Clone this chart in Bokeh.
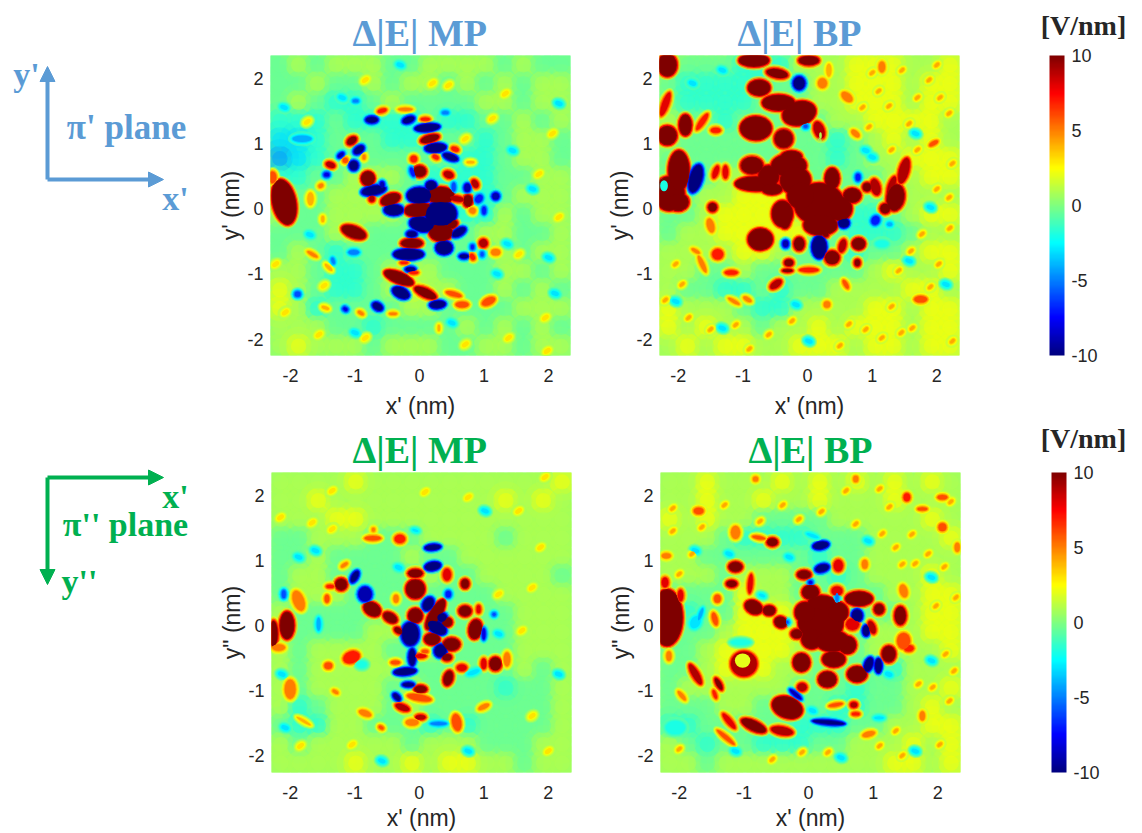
from math import radians
import numpy as np
from bokeh.plotting import figure
from bokeh.embed import file_html
from bokeh.resources import INLINE
from bokeh.layouts import column, row
from bokeh.models import (Arrow, NormalHead, ColorBar, FixedTicker, LinearColorMapper,
                          ColumnDataSource)
from bokeh.transform import transform

TICKS = [-2, -1, 0, 1, 2]
TICK_TEXT = {-2: "-2", -1: "-1", 0: "0", 1: "1", 2: "2"}
CBAR_TICKS = [-10, -5, 0, 5, 10]
CBAR_TEXT = {-10: "-10", -5: "-5", 0: "0", 5: "5", 10: "10"}
BLUE = "#5B9BD5"
GREEN = "#00B050"

# Background field, coarse reading of each map, top row first: value = digit - 3 (V/nm)
BG_MP1 = ["3434443344443433","3343343443434344","3432234333344344","2223222232233434",
          "1123332223323443","0123333333223443","2233444322223344","4334443322223444",
          "4334444322224344","3334433323344334","3432333333334344","4432234443334434",
          "5432234544334343","5423333443333444","4443323333434343","4544434443344344"]
BG_BP1 = ["4333222444555445","3222223344555455","3222233344555455","4332333334455554",
          "4333333332345454","3333333332344555","3334444333334455","3344555433333444",
          "3345555432223455","3445555533222344","4444554333233455","4433433333345445",
          "4332232334444554","5444322444455455","5454434454555455","4545544555455455"]
BG_MP2 = ["4444544444444445","4454444444445454","4445544444444444","3344433344443444",
          "3343333433444444","3443333343344443","3444333333334444","4333333333333444",
          "4333344333333444","4344443343333444","4344444333333434","4344443433332334",
          "4234443433333334","3224433323233334","4344444344433344","4444544545544344"]
BG_BP2 = ["4454445454545454","4454454454445444","5454433334444454","4443222233344445",
          "4433333323344444","4443444332344454","3333544333334455","2233555433333455",
          "2334555433344455","3345555433344445","3345554433332444","3444444333233445",
          "3334433332233454","2233333222334455","4323322233444545","4434444444445545"]

# Features: (x nm, y nm, width nm, height nm, tilt deg, value V/nm)
MP1 = [(-2.10,.10,.34,.68,12,12),(-2.28,.48,.12,.18,0,6),(-1.02,-.36,.38,.17,-20,11),(-.80,.46,.19,.20,0,12),
 (-.45,.14,.29,.15,20,12),(.33,.20,.40,.24,0,12),(-.01,-.02,.42,.19,5,12),(.33,-.36,.34,.26,0,12),
 (.51,-.24,.15,.11,30,11),(-.12,-.53,.32,.13,0,11),(0,.57,.19,.16,0,11),(.16,1.07,.29,.11,15,10),
 (-1.05,1.04,.16,.10,35,10),(-1.38,.67,.14,.08,-20,9),(.45,.52,.15,.10,-20,9),(.75,.12,.13,.17,0,11),
 (.58,.15,.22,.08,-10,9),(.86,.38,.09,.13,30,9),(.99,-.53,.12,.12,30,9),(-.32,-1.06,.46,.15,-22,12),
 (.09,-1.29,.36,.13,-25,10),(.53,-1.31,.25,.07,-15,6),(1.07,-1.42,.22,.11,25,6),(.66,-1.47,.2,.09,0,6),
 (-.74,.15,.08,.09,0,9),(-.58,1.5,.14,.06,15,7),(-.22,1.52,.22,.05,0,5),(.09,1.37,.14,.05,0,7),
 (.55,.91,.12,.07,-20,7),(.79,.71,.12,.04,0,4),(-.09,.76,.1,.1,0,7),(.25,.79,.1,.06,-30,7),
 (.82,-.74,.07,.1,30,7),(1.18,-.67,.14,.1,0,5),(.82,-.03,.1,.09,-30,5),(-1.69,.15,.1,.2,0,4),
 (-1.66,-.70,.18,.05,-30,5),(-1.46,-1.52,.12,.05,-20,4),(-.91,-1.6,.1,.05,-30,5),(-.41,-1.61,.12,.04,0,5),
 (.3,-1.83,.04,.1,0,4),(-1.53,.35,.08,.06,30,5),(-1.5,-.16,.05,.1,0,4),(-1.41,-.9,.15,.05,-45,4),
 (-.09,-.98,.14,.05,0,7),(-.86,.79,.05,.08,0,5),(-1.15,.74,.08,.08,0,6),(-.24,-.83,.12,.04,0,7),
 (0,.2,.36,.22,0,-12),(.33,-.08,.46,.36,0,-12),(.04,-.24,.36,.2,-10,-12),(.18,.35,.14,.12,0,-12),
 (-.4,-.02,.27,.14,0,-12),(-.71,.28,.36,.13,10,-11),(-.17,-.7,.44,.14,0,-12),(-.12,-.39,.14,.08,0,-11),
 (.38,-.6,.23,.18,0,-12),(.61,-.36,.22,.1,30,-11),(.12,1.24,.36,.09,5,-12),(.25,.93,.3,.11,5,-12),
 (.48,.79,.22,.08,-20,-11),(-.17,1.36,.18,.09,20,-10),(-.74,1.36,.17,.08,0,-11),(-.94,.9,.16,.09,35,-11),
 (-1.02,.66,.12,.13,0,-11),(-.29,-1.29,.25,.13,-25,-12),(.28,-1.47,.22,.09,5,-12),(-.65,-1.5,.15,.09,-30,-11),
 (1.18,.19,.1,.1,0,-9),(.74,.32,.09,.12,0,-9),(.92,.15,.1,.13,-40,-7),(1.0,-.03,.06,.12,0,-7),
 (.69,-.73,.13,.06,0,-10),(-.14,-.93,.14,.06,0,-10),(-1.22,.82,.1,.05,40,-9),(-1.44,.52,.08,.06,0,-8),
 (-1.02,-.67,.16,.07,0,-5),(-1.89,-1.31,.09,.08,0,-6),(-.11,.56,.06,.14,20,-7),(.53,.33,.06,.14,0,-6),
 (-.99,1.65,.09,.05,0,-5),(.4,1.47,.1,.05,0,-5),(-1.15,-1.54,.07,.05,-30,-8),(-1.34,-.8,.05,.1,15,-5),
 (-.58,.36,.06,.1,0,-9),(.82,-.59,.05,.07,0,-7),(.97,-.7,.05,.07,0,-6),(-1.82,1.07,.3,.1,0,-4)]
MP1_WARM = [(.2,1.92),(.45,1.89),(1.13,1.38),(1.85,.53),(.71,1.07),(1.54,-.7),(1.95,-1.67),(1.98,-2.18),(-2.08,-1.59),
 (-1.48,-1.18),(-1.74,1.33),(-.84,1.97),(1.33,1.76),(2.16,-.13),(-2.23,-.85),(-1.56,-1.93),(-.84,-1.98),(.71,-2.08),(1.38,-1.98),(2.06,1.15)]
MP1_COOL = [(1.36,-.54),(2.0,-.75),(1.44,.89),(2.16,1.61),(-.3,2.2),(.5,-1.75),(-1.0,-1.9),(-2.1,1.55),(1.75,.3),(1.2,-1.0),(2.1,-1.3),(-1.7,-.4),(-1.2,1.7)]
MP1_HOT = []

BP1 = [(-2.14,.23,.45,.5,0,12),(-1.99,.58,.3,.6,0,12),(-2.17,2.2,.27,.33,0,12),(-2.17,1.12,.27,.27,0,12),
 (-1.89,1.28,.17,.3,0,12),(-2.2,1.6,.1,.38,-20,8),(-.83,2.27,.44,.17,0,12),(-.75,1.85,.32,.22,0,12),(-.45,1.62,.48,.22,0,12),
 (-.47,2.07,.33,.13,-10,10),(-.8,1.23,.46,.34,0,12),(-.13,1.46,.5,.34,15,12),(-.37,1.07,.27,.27,0,11),
 (.02,2.27,.3,.13,0,11),(-.29,.66,.52,.32,0,12),(-.86,.66,.33,.25,0,11),(-.8,.38,.62,.2,0,12),
 (.18,.07,.75,.62,0,12),(-.19,.43,.45,.4,0,12),(.38,.46,.2,.3,0,12),(.69,.2,.25,.2,0,12),
 (-.6,.5,.3,.3,0,12),(-.1,.2,.4,.4,0,12),(.5,0,.35,.35,0,12),(.2,-.25,.5,.3,0,12),(-.55,.3,.3,.15,0,12),(-.25,.8,.3,.15,0,12),
 (-2.0,.1,.3,.25,0,12),(1.2,0,.15,.15,0,10),(1.3,.35,.1,.3,-20,9),(-.35,-.2,.15,.2,0,11),
 (-.39,-.08,.3,.38,0,12),(-.73,-.47,.36,.31,0,12),(1.36,.17,.26,.4,-10,11),(1.49,.58,.15,.4,-15,9),
 (1.05,.33,.14,.25,15,9),(.92,.33,.12,.12,0,11),(.18,1.2,.15,.27,20,9),(.79,-.54,.18,.16,0,12),
 (-.13,-.54,.16,.2,0,10),(.38,-.75,.22,.2,0,10),(.54,-.57,.1,.2,-15,9),(.77,-.83,.08,.1,0,10),
 (-.29,-.83,.13,.1,0,10),(.02,-.94,.3,.07,0,7),(-.31,-.95,.15,.04,0,10),(.28,-.39,.08,.08,0,11),
 (-1.39,-.7,.17,.16,0,7),(-1.18,-.98,.2,.07,0,7),(-.49,-1.16,.2,.1,35,9),(-1.47,.02,.13,.13,0,10),
 (-1.5,-.26,.11,.22,15,5),(-1.63,1.33,.08,.3,-35,7),(-1.42,1.2,.15,.08,0,7),(-1.42,.56,.08,.2,-20,8),
 (-1.27,.56,.08,.2,0,8),(-1.63,-.85,.07,.28,25,5),(-1.73,-.65,.14,.05,-30,5),(-.93,-1.39,.14,.06,-30,5),
 (-1.14,-1.42,.2,.05,-30,5),(.61,1.71,.2,.12,-40,5),(1.15,2.17,.1,.17,0,5),(1.95,1.0,.15,.06,30,6),
 (1.75,-1.39,.2,.1,0,6),(.74,1.15,.15,.08,-40,5),(.59,-1.16,.06,.15,30,6),(.3,-1.47,.1,.1,0,5),
 (.23,1.92,.14,.15,0,5),(.33,2.12,.08,.2,0,4),(.2,1.12,.04,.1,0,1),
 (-1.73,.46,.18,.42,-15,-11),(-.13,1.92,.17,.19,0,-10),(.18,-.59,.2,.32,0,-12),(.56,-.22,.14,.12,0,-12),
 (-.34,-.54,.08,.1,0,-9),(1.05,-.18,.12,.14,-30,-7),(.78,.48,.07,.11,0,-7),(-.03,1.26,.06,.05,0,-6),
 (-2.22,.35,.12,.17,0,-2),(1.27,-.24,.08,.06,0,-4),(1.15,-.54,.2,.1,0,-2)]
BP1_WARM = []
BP1_COOL = [(-1.32,2.12),(-1.78,1.92),(1.57,-.8),(2.14,-1.16),(-.18,-1.47),(.9,.89),(1.0,.79),(-2.04,-1.42),(-1.32,-1.83),(.02,-2.03),(1.9,.02),(1.67,1.15)]
BP1_HOT = [(1.0,2.08),(1.46,2.12),(1.88,1.97),(2.19,1.46),(1.26,1.57),(.95,1.25),(1.57,1.3),(2.24,.69),(2.19,.17),(1.77,-.39),(2.03,-.85),
 (1.41,-.95),(1.15,-1.98),(.64,-1.77),(-.24,-1.72),(-.6,-1.93),(-1.94,-1.16),(-2.04,-.85),(2.24,-2.03),(1.62,-1.83),(-1.84,-1.67),(-1.11,-1.78),
 (1.7,.9),(2.0,.3),(1.3,.9),(2.2,-.3),(1.6,-.65),(1.9,-1.2),(1.3,-1.5),(.9,-1.85),(.5,-2.1),(-1.5,-1.85),(-2.2,-1.4),(-.9,-2.15),(2.0,2.2),(1.7,1.7),(1.1,1.8),(.85,1.55),(2.05,1.7),(1.45,-1.9)]

MP2 = [(-2.05,0,.2,.4,0,12),(-2.26,-.13,.13,.4,0,10),(-2.18,-.34,.2,.1,0,5),(-1.87,.38,.17,.32,20,5),
 (-.06,.56,.27,.27,0,12),(-.06,.8,.22,.12,0,10),(-.06,.15,.2,.2,0,12),(.25,.17,.16,.5,-30,12),
 (.2,-.21,.22,.16,0,12),(.5,-.29,.25,.18,0,11),(.43,.05,.14,.12,0,12),(.87,-.06,.18,.28,-10,12),
 (.71,.22,.18,.15,0,11),(.71,.64,.11,.13,0,11),(.43,.78,.12,.18,0,8),(-1.21,.63,.17,.17,0,11),
 (-1.38,.6,.12,.05,0,7),(-.73,.25,.26,.18,-30,12),(-.45,.12,.22,.13,-30,11),(-.32,-.08,.14,.08,-30,10),
 (-1.05,-.49,.26,.18,20,7),(-1.41,-.62,.12,.1,0,6),(.45,-.81,.13,.22,-15,11),(1.18,-.59,.18,.2,0,10),
 (1.0,-.59,.08,.16,0,8),(1.36,-.52,.1,.22,0,5),(.66,-.65,.15,.1,0,8),(.02,-.98,.18,.1,0,11),
 (0,-1.11,.38,.1,-10,6),(-.26,-1.26,.22,.09,-20,9),(.02,-1.41,.15,.07,0,9),(-.11,-1.49,.2,.1,0,5),
 (.58,-1.49,.14,.26,10,6),(1.0,-1.25,.18,.07,25,5),(-.72,1.34,.25,.07,0,6),(-.3,1.33,.16,.13,0,7),
 (-2.0,-.98,.17,.3,0,5),(-.84,-1.35,.2,.09,-20,5),(-1.79,-1.47,.25,.04,-30,4),(-1.16,.93,.12,.05,35,5),
 (-.36,.41,.08,.12,0,5),(-1.43,.41,.07,.12,0,6),(.02,-.47,.18,.06,0,8),(.43,-.49,.14,.1,0,10),
 (-.37,-.57,.14,.06,0,6),(-1.3,-1.02,.1,.05,-30,5),(-.59,-1.57,.08,.05,-30,6),(-.71,1.47,.05,.06,0,5),
 (.09,-.4,.1,.05,0,6),(.92,.25,.06,.12,0,8),
 (-.84,.48,.2,.22,0,-9),(-1.0,.75,.08,.18,-30,-11),(.21,1.2,.22,.06,5,-12),(.21,.91,.22,.1,10,-12),
 (-.14,-.13,.25,.34,0,-11),(.14,.33,.14,.2,-30,-11),(.35,.12,.14,.13,0,-11),(.27,-.03,.3,.16,-30,-12),
 (.33,-.39,.17,.18,-30,-11),(-.11,-.49,.09,.25,0,-11),(-.22,-.71,.32,.08,5,-12),(-.17,-.91,.16,.05,0,-11),
 (-.35,-1.1,.12,.06,-45,-11),(.45,.48,.08,.1,0,-7),(1.0,-.13,.05,.17,0,-8),(-2.1,.48,.06,.12,0,-6),
 (-1.56,.02,.06,.2,0,-4),(-.89,-.6,.15,.1,0,-2),(.3,-1.51,.25,.05,0,-5),(.84,-.72,.2,.07,20,-3),
 (1.16,.17,.05,.05,0,-6),(-.06,1.46,.1,.04,-15,-3)]
MP2_WARM = [(1.95,2.28),(.09,2.05),(-1.35,2.07),(-1.66,1.58),(-1.35,1.48),(1.88,1.2),(1.75,.58),(1.59,-.08),(-1.04,-1.83),(2.0,-1.93),(.76,1.97),(1.23,.48),(-2.15,1.66),(-1.84,-1.85),(1.54,1.76),(1.75,-1.39)]
MP2_COOL = [(-1.87,1.05),(-2.13,-.75),(-2.08,-1.57),(1.02,1.76),(1.23,-.13),(2.16,-.75),(-.32,.89),(-1.61,1.15),(.76,-1.93),(-.58,-2.08)]
MP2_HOT = []

BP2 = [(-2.19,.12,.46,.85,0,12),(-2.22,.66,.1,.15,0,8),(-1.98,.46,.08,.18,0,8),(.19,.05,.68,.6,0,12),
 (-.05,.2,.3,.3,0,12),(.45,.2,.3,.3,0,12),(.05,-.2,.3,.3,0,12),(.6,-.3,.25,.25,0,12),(.2,.35,.4,.2,0,12),(1.55,-.35,.15,.1,0,7),
 (.37,-.24,.5,.3,0,12),(.39,-.52,.33,.22,0,12),(.03,.51,.24,.2,0,12),(-.07,.78,.2,.12,0,11),
 (.44,.53,.17,.14,0,8),(.46,.92,.14,.18,0,8),(.78,.41,.4,.2,0,12),(1.09,.25,.14,.15,0,11),
 (1.42,.15,.17,.28,0,10),(1.47,.53,.12,.2,15,5),(1.47,-.24,.2,.25,0,6),(1.24,-.44,.2,.24,0,11),
 (.75,-.75,.28,.22,0,12),(.29,-.83,.26,.22,0,12),(-.11,-.57,.24,.26,0,12),(-.1,-.95,.14,.12,0,9),
 (-.33,-1.26,.46,.3,-20,12),(-.41,-1.62,.34,.12,-10,9),(-.85,-1.54,.4,.14,-25,11),(-1.23,-1.47,.3,.08,-50,8),
 (-1.39,-.9,.2,.07,-60,10),(-1.75,-.75,.35,.1,-60,9),(-1.0,-.59,.4,.38,0,9),(-1.02,-.54,.24,.22,0,2),
 (-.85,.28,.26,.18,-25,12),(-.61,.23,.17,.13,0,12),(-.43,.05,.18,.15,-20,12),(-.18,-.13,.17,.13,0,11),
 (-1.13,.9,.2,.14,0,11),(-1.19,.64,.16,.1,0,10),(-.9,.64,.07,.3,-5,8),(-.56,1.28,.16,.12,0,10),
 (-.77,1.35,.2,.05,-10,6),(-1.13,1.43,.14,.2,0,5),(-1.41,.41,.1,.12,0,6),(-1.45,.1,.08,.2,15,6),
 (.98,-.03,.1,.2,20,9),(.68,.02,.2,.18,0,8),(.42,-1.22,.22,.05,10,6),(.7,-1.22,.1,.08,0,9),
 (.73,-1.36,.12,.05,0,7),(-1.28,-1.72,.35,.06,-40,6),(.93,-1.67,.2,.08,15,5),(1.52,1.97,.1,.12,0,7),
 (2.07,1.97,.15,.07,0,6),(1.76,1.79,.15,.05,0,6),(2.07,1.51,.12,.12,0,6),(2.3,1.2,.08,.14,0,5),
 (.87,.94,.09,.14,0,5),(-1.7,1.76,.15,.1,0,6),(-2.2,1.07,.14,.08,0,5),(.73,2.25,.08,.1,0,5),
 (-.82,2.25,.08,.08,0,5),(-1.96,-1.08,.18,.06,-50,5),(-2.16,-.47,.08,.15,0,5),(-1.45,-1.06,.05,.14,20,7),
 (1.76,-1.39,.08,.14,0,5),
 (.75,.15,.14,.17,0,-12),(.89,-.08,.08,.14,0,-12),(.93,-.6,.1,.2,-20,-12),(1.08,-.62,.08,.2,0,-12),
 (.19,1.23,.22,.09,10,-12),(.21,.88,.2,.1,15,-11),(.31,-1.49,.48,.05,-5,-11),(-.2,-1.06,.22,.05,-40,-9),
 (-1.75,.05,.15,.2,-30,-3),(-1.67,.17,.05,.2,-20,-4),(.03,.66,.05,.05,0,-8),(.44,.43,.05,.14,0,-5),
 (.06,1.38,.2,.05,-20,-3),(-1.05,-.26,.3,.08,0,-2),(-2.06,-1.57,.3,.2,0,-2),(1.09,-1.42,.15,.05,0,-3),
 (-.33,.05,.04,.04,0,-6),(-.72,.46,.1,.05,-20,-3)]
BP2_WARM = []
BP2_COOL = [(-1.75,1.15),(-1.13,-1.93),(1.9,-.54),(1.24,-.75),(.06,-1.31),(-.3,1.05),(-1.23,1.1),(.92,1.3),(1.9,.74),(.5,-2.03),(1.65,-1.93)]
BP2_HOT = [(-2.1,1.45),(-.75,1.6),(-.15,1.63),(.58,2.07),(1.25,1.82),(1.45,.94),(2.28,.43),(1.97,.3),(1.92,-.95),(2.18,-1.16),(2.03,-1.83),
 (1.45,-2.0),(1.35,-1.62),(-.56,-2.06),(.73,1.56),(1.14,1.41),(2.12,-.44),(-1.65,1.51),(-2.0,.79),(1.6,1.4),
 (1.85,1.1),(2.1,.9),(1.65,.95),(2.25,-.7),(1.7,-.9),(1.1,-1.85),(.3,-1.95),(-.1,-1.95),(-2.0,-1.9),(-1.8,1.1),(-1.3,1.85),(-.4,1.85),(.2,1.75),(1.1,2.1),(-2.1,1.8),(1.35,1.2),(2.2,1.9)]


def jet_channel(t):
    return max(0.0, min(1.0, 1.5 - abs(4 * t)))


JET = []
for i in range(256):
    u = i / 255
    JET.append("#%02x%02x%02x" % (int(255 * jet_channel(u - .75)), int(255 * jet_channel(u - .5)),
                                  int(255 * jet_channel(u - .25))))
MAPPER = LinearColorMapper(palette=JET, low=-10, high=10)

# rim width in nm, share of the feature's value, opacity: soft edge of each feature
RIMS = [(.07, .25, .55), (.05, .42, .8), (.032, .6, 1), (.015, .8, 1), (0, 1, 1)]
# disc radius in nm and opacity: soft drawing of the background cells
DISCS = [(.3, .3), (.2, .4), (.12, .5)]


def heat_panel(bg, blobs, warm, cool, hot, xr, yr, title, title_left, color, ylabel,
               left, right, top, bottom, xlabel_standoff):
    p = figure(frame_width=300, frame_height=300, frame_align=False, x_range=xr, y_range=yr, title=title,
               output_backend="svg", toolbar_location=None, min_border_left=left, min_border_right=right,
               min_border_top=top, min_border_bottom=bottom, outline_line_color=None)
    p.grid.visible = False
    p.title.align = "left"
    p.title.offset = title_left
    p.title.standoff = 3
    p.title.text_font = "Liberation Serif"
    p.title.text_font_size = "38px"
    p.title.text_font_style = "bold"
    p.title.text_color = color
    for ax, lab, std, lab_std in ((p.xaxis[0], "x' (nm)", 7, xlabel_standoff), (p.yaxis[0], ylabel, 1, 0)):
        ax.ticker = FixedTicker(ticks=TICKS)
        ax.major_label_overrides = TICK_TEXT
        ax.axis_label = lab
        ax.axis_label_text_font = "Liberation Sans"
        ax.axis_label_text_font_size = "23px"
        ax.axis_label_text_font_style = "normal"
        ax.axis_label_text_color = "#262626"
        ax.axis_label_standoff = lab_std
        ax.major_label_text_font = "Liberation Sans"
        ax.major_label_text_font_size = "18px"
        ax.major_label_text_color = "#262626"
        ax.major_label_standoff = std
        ax.axis_line_color = None
        ax.major_tick_line_color = None
        ax.minor_tick_line_color = None
    n = len(bg)
    xs, ys, vs = [], [], []
    for r, line in enumerate(bg):
        for c, ch in enumerate(line):
            xs.append(xr[0] + (c + .5) * (xr[1] - xr[0]) / n)
            ys.append(yr[1] - (r + .5) * (yr[1] - yr[0]) / n)
            vs.append((int(ch) - 3) * 1.3 - .4)
    mean = float(np.mean(vs))
    p.background_fill_color = JET[int((mean + 10) / 20 * 255)]
    cells = ColumnDataSource(dict(x=xs, y=ys, v=vs))
    for radius, alpha in DISCS:
        p.circle(x="x", y="y", radius=radius, source=cells, fill_color=transform("v", MAPPER),
                 fill_alpha=alpha, line_color=None)
    all_blobs = ([(a, b, .12, .07, 35, 3) for a, b in warm] + [(a, b, .12, .07, -20, -3) for a, b in cool]
                 + [(a, b, .09, .05, 40, 4.2) for a, b in hot] + list(blobs))
    for rim, share, alpha in RIMS:
        src = ColumnDataSource(dict(
            x=[b[0] for b in all_blobs], y=[b[1] for b in all_blobs],
            w=[b[2] + 2 * rim for b in all_blobs], h=[b[3] + 2 * rim for b in all_blobs],
            a=[radians(b[4]) for b in all_blobs], v=[b[5] * share for b in all_blobs]))
        p.ellipse(x="x", y="y", width="w", height="h", angle="a", source=src,
                  fill_color=transform("v", MAPPER), fill_alpha=alpha, line_color=None)
    return p


def blank(width, height, x_range, y_range):
    p = figure(width=width, height=height, x_range=x_range, y_range=y_range, output_backend="svg",
               toolbar_location=None, min_border=0, outline_line_color=None, frame_align=False)
    p.axis.visible = False
    p.grid.visible = False
    return p


def note(p, x, y, txt, color, size):
    p.text(x=[x], y=[y], text=[txt], text_color=color, text_font_size=size, text_font_style="bold",
           text_align="center", text_baseline="middle", text_font={"value": "Liberation Serif"})


def arrow(p, x0, y0, x1, y1, color):
    p.add_layout(Arrow(x_start=x0, y_start=y0, x_end=x1, y_end=y1, line_color=color, line_width=4,
                       end=NormalHead(size=15, fill_color=color, line_color=color)))


def colorbar_panel(height, y_range, title_y, bar_left, bar_bottom):
    p = blank(155, height, (979, 1134), y_range)
    note(p, 1083, title_y, "[V/nm]", "#262626", "28px")
    cb = ColorBar(color_mapper=MAPPER, width=15, height=300, location=(bar_left, bar_bottom),
                  ticker=FixedTicker(ticks=CBAR_TICKS), major_label_overrides=CBAR_TEXT,
                  major_tick_line_color=None,
                  bar_line_color=None, background_fill_alpha=0, border_line_color=None, padding=0,
                  major_label_text_font="Liberation Sans", major_label_text_font_size="18px",
                  major_label_text_color="#262626", label_standoff=7)
    p.add_layout(cb, "center")
    return p


left1 = blank(205, 421, (0, 205), (421, 0))
arrow(left1, 47, 179, 47, 66, BLUE)
arrow(left1, 47, 179, 163, 179, BLUE)
note(left1, 26, 74, "y'", BLUE, "34px")
note(left1, 126, 127, "π' plane", BLUE, "35px")
note(left1, 175, 198, "x'", BLUE, "34px")

left2 = blank(205, 412, (0, 205), (833, 421))
arrow(left2, 47, 477, 163, 477, GREEN)
arrow(left2, 47, 477, 47, 584, GREEN)
note(left2, 175, 496, "x'", GREEN, "34px")
note(left2, 125, 524, "π'' plane", GREEN, "34px")
note(left2, 79, 581, "y''", GREEN, "34px")

p1 = heat_panel(BG_MP1, MP1, MP1_WARM, MP1_COOL, MP1_HOT, (-2.31, 2.34), (-2.25, 2.345), "Δ|E| MP", 82, BLUE,
                "y' (nm)", 65, 30, 55, 66, 8)
p2 = heat_panel(BG_BP1, BP1, BP1_WARM, BP1_COOL, BP1_HOT, (-2.29, 2.35), (-2.25, 2.345), "Δ|E| BP", 78, BLUE,
                "y' (nm)", 59, 20, 55, 66, 8)
p3 = heat_panel(BG_MP2, MP2, MP2_WARM, MP2_COOL, MP2_HOT, (-2.29, 2.36), (-2.26, 2.35), "Δ|E| MP", 81, GREEN,
                'y" (nm)', 66, 30, 51, 61, 3)
p4 = heat_panel(BG_BP2, BP2, BP2_WARM, BP2_COOL, BP2_HOT, (-2.29, 2.35), (-2.26, 2.35), "Δ|E| BP", 88, GREEN,
                'y" (nm)', 59, 19, 51, 61, 3)

cb1 = colorbar_panel(421, (421, 0), 25, 70, 66)
cb2 = colorbar_panel(412, (833, 421), 438, 72, 61)

page = column(row(left1, p1, p2, cb1, spacing=0), row(left2, p3, p4, cb2, spacing=0), spacing=0)
open("out.html", "w").write(file_html(page, INLINE))
